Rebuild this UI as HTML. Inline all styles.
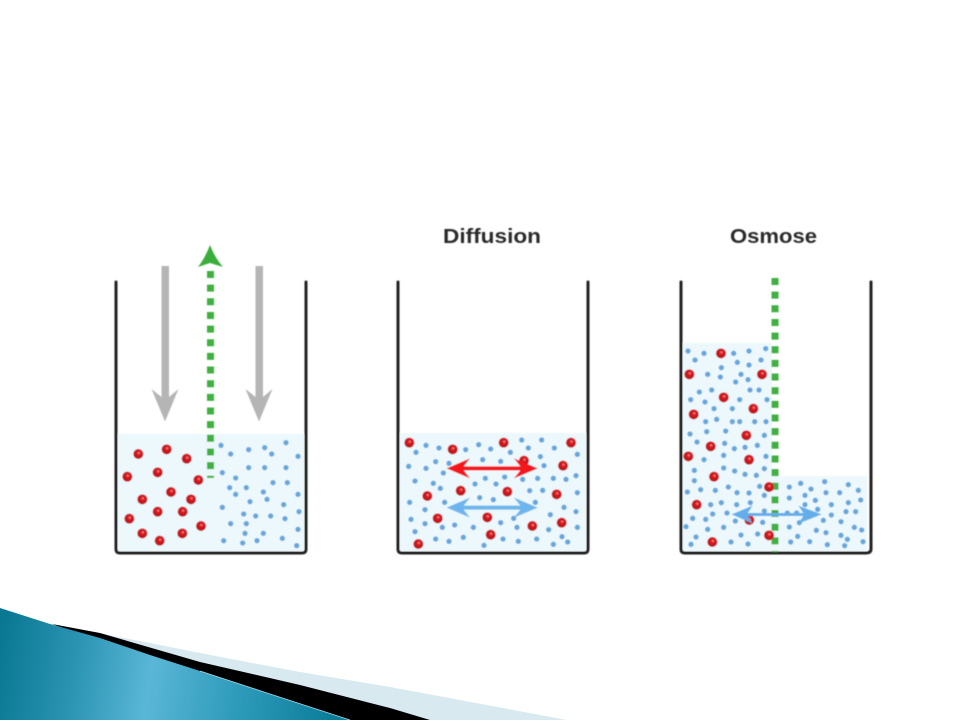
<!DOCTYPE html>
<html lang="de"><head><meta charset="utf-8"><title>Diffusion und Osmose</title>
<style>html,body{margin:0;padding:0;background:#fff;width:960px;height:720px;overflow:hidden}svg{display:block}text{font-family:"Liberation Sans",sans-serif;font-weight:bold;font-size:20px;fill:#2a2a2a}.b{fill:none;stroke:#66a6dc;stroke-width:16;stroke-linecap:round}.k{fill:none;stroke:#222;stroke-width:3;stroke-linejoin:round;stroke-linecap:round}</style></head>
<body>
<svg width="960" height="720" viewBox="0 0 960 720" xmlns="http://www.w3.org/2000/svg">
<defs>
<radialGradient id="rg" cx=".55" cy=".4" r=".6"><stop offset="0" stop-color="#f29a9a"/><stop offset=".3" stop-color="#d81a20"/><stop offset="1" stop-color="#b80f14"/></radialGradient>
<circle id="r" r="15" fill="url(#rg)"/>
<linearGradient id="teal" gradientUnits="userSpaceOnUse" x1="0" y1="650" x2="335" y2="700"><stop offset="0" stop-color="#0a7893"/><stop offset=".22" stop-color="#2a93b2"/><stop offset=".45" stop-color="#5ab6d6"/><stop offset=".72" stop-color="#2d9aba"/><stop offset="1" stop-color="#0b7d99"/></linearGradient>
<filter id="soft" x="-5%" y="-5%" width="110%" height="110%"><feGaussianBlur stdDeviation=".4"/></filter>
</defs>
<rect width="960" height="720" fill="#fff"/>
<path d="M60 626L140 641L200 653L300 672L390 687L567 720L400 720Z" fill="#d9e9f0"/>
<path d="M52 624L100 633L200 662L300 685L390 708L430 720L340 720L200 680Z" fill="#000"/>
<path d="M0 608L50 624L100 638L150 655L200 671L267 693L350 720L0 720Z" fill="url(#teal)"/>
<path d="M200 671L267 693L350 720" fill="none" stroke="#a6d8e6" stroke-width=".8"/>
<g filter="url(#soft)">
<rect x="118" y="434" width="186" height="117" fill="#ecf8fc"/>
<rect x="400" y="433" width="186" height="118" fill="#ecf8fc"/>
<path d="M683 343H772V476H867V551H683Z" fill="#ecf8fc"/>
<path class="k" d="M116 282V549Q116 553 120 553H302Q306 553 306 549V282"/>
<path class="k" d="M398 282V549Q398 553 402 553H584Q588 553 588 549V282"/>
<path class="k" d="M681 282V549Q681 553 685 553H866Q871 553 871 549V282"/>
<path d="M161.500 266H169V397L178.500 389L165 421.500L151.500 389L161.500 397Z" fill="#b5b5b5"/>
<path d="M255.500 266H263V397L272.500 389L259 421.500L245.500 389L255.500 397Z" fill="#b5b5b5"/>
<path d="M210 245Q215 258 223 267L210 263L198 267Q205 258 210 245Z" fill="#3aad3a"/>
<path d="M210.500 271V478" stroke="#3fb03f" stroke-width="7" stroke-dasharray="7 6.650" fill="none"/>
<path d="M775 278V552" stroke="#3fb03f" stroke-width="7" stroke-dasharray="7 6.650" fill="none"/>
<g transform="translate(100 230) scale(.33333)">
<path class="b" d="M363 646h0M392 672h0M446 659h0M494 653h0M515 672h0M558 638h0M594 679h0M367 728h0M446 713h0M494 713h0M558 713h0M407 744h0M389 773h0M439 773h0M519 758h0M562 758h0M407 793h0M490 786h0M594 793h0M501 808h0M450 815h0M551 824h0M367 832h0M431 852h0M467 858h0M512 858h0M555 866h0M597 845h0M392 881h0M439 881h0M594 898h0M435 910h0M490 910h0M547 925h0M371 932h0M428 939h0M471 932h0M590 947h0"/>
<use href="#r" x="115" y="672"/><use href="#r" x="200" y="658"/><use href="#r" x="260" y="686"/><use href="#r" x="82" y="740"/><use href="#r" x="173" y="727"/><use href="#r" x="295" y="750"/><use href="#r" x="213" y="786"/><use href="#r" x="127" y="808"/><use href="#r" x="273" y="808"/><use href="#r" x="173" y="845"/><use href="#r" x="248" y="845"/><use href="#r" x="88" y="866"/><use href="#r" x="303" y="888"/><use href="#r" x="127" y="910"/><use href="#r" x="247" y="910"/><use href="#r" x="179" y="932"/>
</g>
<g transform="translate(385 420) scale(.33333)">
<path class="b" d="M123 76h0M93 97h0M162 84h0M242 89h0M281 74h0M317 87h0M376 97h0M410 60h0M430 84h0M470 60h0M508 84h0M466 110h0M577 103h0M71 139h0M123 145h0M152 125h0M192 130h0M293 119h0M347 124h0M477 137h0M175 159h0M90 183h0M145 190h0M166 205h0M270 192h0M301 175h0M333 192h0M359 171h0M413 178h0M458 175h0M505 175h0M543 178h0M573 167h0M434 212h0M473 211h0M577 218h0M284 233h0M325 239h0M179 247h0M74 247h0M451 247h0M120 269h0M537 262h0M573 275h0M496 284h0M78 298h0M120 311h0M386 295h0M172 322h0M209 315h0M265 322h0M347 308h0M396 322h0M491 329h0M577 322h0M90 335h0M152 357h0M192 364h0M235 352h0M354 357h0M400 364h0M455 357h0M531 350h0M548 366h0M297 376h0M505 373h0"/>
<use href="#r" x="73" y="68"/><use href="#r" x="203" y="88"/><use href="#r" x="356" y="68"/><use href="#r" x="417" y="122"/><use href="#r" x="558" y="68"/><use href="#r" x="534" y="137"/><use href="#r" x="227" y="212"/><use href="#r" x="367" y="215"/><use href="#r" x="127" y="228"/><use href="#r" x="515" y="223"/><use href="#r" x="158" y="295"/><use href="#r" x="307" y="292"/><use href="#r" x="442" y="318"/><use href="#r" x="530" y="308"/><use href="#r" x="317" y="344"/><use href="#r" x="100" y="372"/>
<path d="M185 145L255 115L236 139H406L387 115L458 145L387 175L406 151H236L255 175Z" fill="#f5141c"/>
<path d="M185 263L255 233L236 257H406L387 233L458 263L387 293L406 269H236L255 293Z" fill="#6db5ee"/>
</g>
<g transform="translate(670 330) scale(.33333)">
<path class="b" d="M54 63h0M102 70h0M75 90h0M191 70h0M237 63h0M287 56h0M202 97h0M237 105h0M273 90h0M154 113h0M113 133h0M151 141h0M213 133h0M197 156h0M234 149h0M88 186h0M125 180h0M240 180h0M267 180h0M62 209h0M105 216h0M209 209h0M291 209h0M132 236h0M187 236h0M107 275h0M140 268h0M187 275h0M209 275h0M254 275h0M288 275h0M60 312h0M110 305h0M167 303h0M283 316h0M81 336h0M164 340h0M193 356h0M225 352h0M262 346h0M161 376h0M102 389h0M288 379h0M161 414h0M73 421h0M194 423h0M225 433h0M259 436h0M283 416h0M73 452h0M175 471h0M92 479h0M136 481h0M52 486h0M201 488h0M237 489h0M269 469h0M283 496h0M358 471h0M392 460h0M423 477h0M464 455h0M535 464h0M565 481h0M468 488h0M509 488h0M405 496h0M358 504h0M122 524h0M154 518h0M200 524h0M241 518h0M436 511h0M484 524h0M535 518h0M572 510h0M405 524h0M128 552h0M171 549h0M283 543h0M352 549h0M380 549h0M443 538h0M484 555h0M528 545h0M557 545h0M68 565h0M107 568h0M196 573h0M278 577h0M460 571h0M513 575h0M388 578h0M48 590h0M113 598h0M161 592h0M358 591h0M439 601h0M553 592h0M575 600h0M468 608h0M213 615h0M263 612h0M513 616h0M383 619h0M78 621h0M532 628h0M63 643h0M183 636h0M234 642h0M362 636h0M419 635h0M472 644h0M524 647h0M579 635h0"/>
<use href="#r" x="153" y="70"/><use href="#r" x="58" y="133"/><use href="#r" x="276" y="133"/><use href="#r" x="161" y="202"/><use href="#r" x="250" y="236"/><use href="#r" x="71" y="253"/><use href="#r" x="229" y="316"/><use href="#r" x="122" y="349"/><use href="#r" x="55" y="379"/><use href="#r" x="237" y="389"/><use href="#r" x="132" y="440"/><use href="#r" x="297" y="471"/><use href="#r" x="80" y="524"/><use href="#r" x="238" y="570"/><use href="#r" x="297" y="616"/><use href="#r" x="127" y="636"/>
<path d="M185 553L248 527L233 549H400L385 527L455 553L385 581L400 558H233L248 581Z" fill="#63aeea"/>
</g>
<text x="443" y="243" textLength="98" lengthAdjust="spacingAndGlyphs">Diffusion</text>
<text x="730" y="243" textLength="87" lengthAdjust="spacingAndGlyphs">Osmose</text>
</g>
</svg>
</body></html>
